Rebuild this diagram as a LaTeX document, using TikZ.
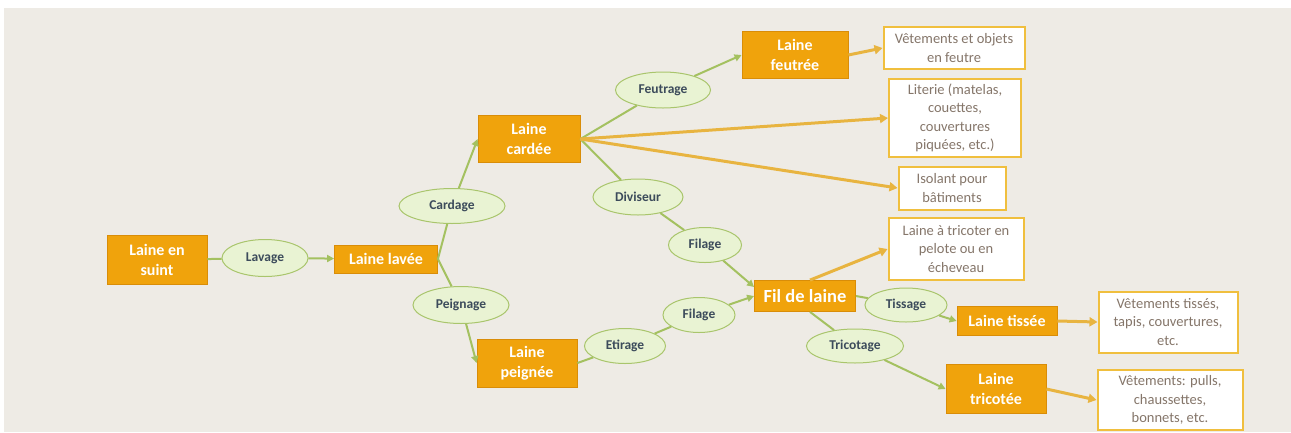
\documentclass[tikz,border=0pt]{standalone}
\usepackage{fontspec}
\setmainfont{Carlito}
\usetikzlibrary{arrows.meta,shapes.geometric}
\definecolor{bgc}{HTML}{EEEBE5}
\definecolor{ofill}{HTML}{F0A30C}
\definecolor{oborder}{HTML}{D98D08}
\definecolor{efill}{HTML}{E9F3D3}
\definecolor{eborder}{HTML}{A9C56C}
\definecolor{etext}{HTML}{3C4B5B}
\definecolor{gcol}{HTML}{A4C160}
\definecolor{ocol}{HTML}{E8B440}
\definecolor{wborder}{HTML}{F0BF3E}
\definecolor{wtext}{HTML}{85766A}
\begin{document}
\begin{tikzpicture}[x=1pt,y=-1pt,
  obox/.style={draw=oborder, line width=0.8pt, fill=ofill, text=white,
    font=\fontsize{16}{19.5}\selectfont\bfseries, align=center, inner sep=0pt},
  proc/.style={ellipse, draw=eborder, line width=1pt, fill=efill, text=etext,
    font=\fontsize{13.5}{16}\selectfont\bfseries, inner sep=0pt},
  wbox/.style={draw=wborder, line width=2pt, fill=white, text=wtext,
    font=\fontsize{14.5}{18.5}\selectfont, align=center, inner sep=0pt},
  gline/.style={draw=gcol, line width=2pt},
  garrow/.style={gline, -{Triangle[length=7pt,width=7pt]}},
  oarrow/.style={draw=ocol, line width=3pt, -{Triangle[length=8pt,width=9pt]}}]
\useasboundingbox (0,0) rectangle (1291,432);
\fill[white] (0,0) rectangle (1291,432);
\fill[bgc] (4,8) rectangle (1291,432);

% orange boxes
\node[obox, minimum width=100pt, minimum height=49pt] (suint) at (157,260) {Laine en\\suint};
\node[obox, minimum width=103pt, minimum height=28pt] (lavee) at (386,259) {Laine lavée};
\node[obox, minimum width=102pt, minimum height=47pt] (cardee) at (529,139) {Laine\\cardée};
\node[obox, minimum width=100pt, minimum height=48pt] (peignee) at (527,363) {Laine\\peignée};
\node[obox, minimum width=106pt, minimum height=47pt] (feutree) at (795,55) {Laine\\feutrée};
\node[obox, minimum width=101pt, minimum height=31pt, font=\fontsize{18.5}{20}\selectfont\bfseries] (fil) at (805,296) {Fil de laine};
\node[obox, minimum width=100pt, minimum height=29pt] (tissee) at (1007,321) {Laine tissée};
\node[obox, minimum width=100pt, minimum height=49pt] (tricotee) at (996,389) {Laine\\tricotée};

% process ellipses
\node[proc, minimum width=86pt, minimum height=37pt] (lavage) at (265,258) {Lavage};
\node[proc, minimum width=106pt, minimum height=35pt] (cardage) at (452,206) {Cardage};
\node[proc, minimum width=96pt, minimum height=37pt] (peignage) at (461,305) {Peignage};
\node[proc, minimum width=95pt, minimum height=36pt] (feutrage) at (663,90) {Feutrage};
\node[proc, minimum width=90pt, minimum height=36pt] (diviseur) at (638,197) {Diviseur};
\node[proc, minimum width=73pt, minimum height=35pt] (filageA) at (705,245) {Filage};
\node[proc, minimum width=72pt, minimum height=35pt] (filageB) at (699,315) {Filage};
\node[proc, minimum width=81pt, minimum height=35pt] (etirage) at (625,346) {Etirage};
\node[proc, minimum width=82pt, minimum height=34pt] (tissage) at (906,305) {Tissage};
\node[proc, minimum width=97pt, minimum height=34pt] (tricotage) at (855,346) {Tricotage};

% white result boxes
\node[wbox, minimum width=141pt, minimum height=42pt] (feutre) at (954,48) {Vêtements et objets\\en feutre};
\node[wbox, minimum width=132pt, minimum height=78pt] (literie) at (955,118) {Literie (matelas,\\couettes,\\couvertures\\piquées, etc.)};
\node[wbox, minimum width=107pt, minimum height=43pt] (isolant) at (952,188) {Isolant pour\\bâtiments};
\node[wbox, minimum width=135pt, minimum height=62pt] (tricoter) at (956,249) {Laine à tricoter en\\pelote ou en\\écheveau};
\node[wbox, minimum width=139pt, minimum height=61pt] (tisses) at (1168,322) {Vêtements tissés,\\tapis, couvertures,\\etc.};
\node[wbox, minimum width=145pt, minimum height=60pt] (pulls) at (1170,400) {Vêtements: pulls,\\chaussettes,\\bonnets, etc.};

% green connectors
\draw[gline] (suint) -- (lavage);
\draw[garrow] (lavage) -- (lavee);
\draw[gline] (lavee.east) -- (cardage);
\draw[garrow] (cardage) -- (cardee.west);
\draw[gline] (lavee.east) -- (peignage);
\draw[garrow] (peignage) -- (peignee.west);
\draw[gline] (cardee.east) -- (feutrage);
\draw[garrow] (feutrage) -- (feutree.west);
\draw[gline] (cardee.east) -- (diviseur);
\draw[gline] (diviseur) -- (filageA);
\draw[garrow] (filageA) -- ([yshift=9pt]fil.west);
\draw[gline] (peignee.east) -- (etirage);
\draw[gline] (etirage) -- (filageB);
\draw[garrow] (filageB) -- (fil.west);
\draw[gline] (fil.east) -- (tissage);
\draw[garrow] (tissage) -- (tissee.west);
\draw[gline] ([xshift=5pt]fil.south) -- (tricotage);
\draw[garrow] (tricotage) -- (tricotee.west);

% orange connectors
\draw[oarrow] (feutree.east) -- (feutre.west);
\draw[oarrow] (cardee.east) -- (literie.west);
\draw[oarrow] (cardee.east) -- (isolant.west);
\draw[oarrow] ([xshift=5pt]fil.north) -- (tricoter.west);
\draw[oarrow] (tissee.east) -- (tisses.west);
\draw[oarrow] (tricotee.east) -- (pulls.west);
\end{tikzpicture}
\end{document}
